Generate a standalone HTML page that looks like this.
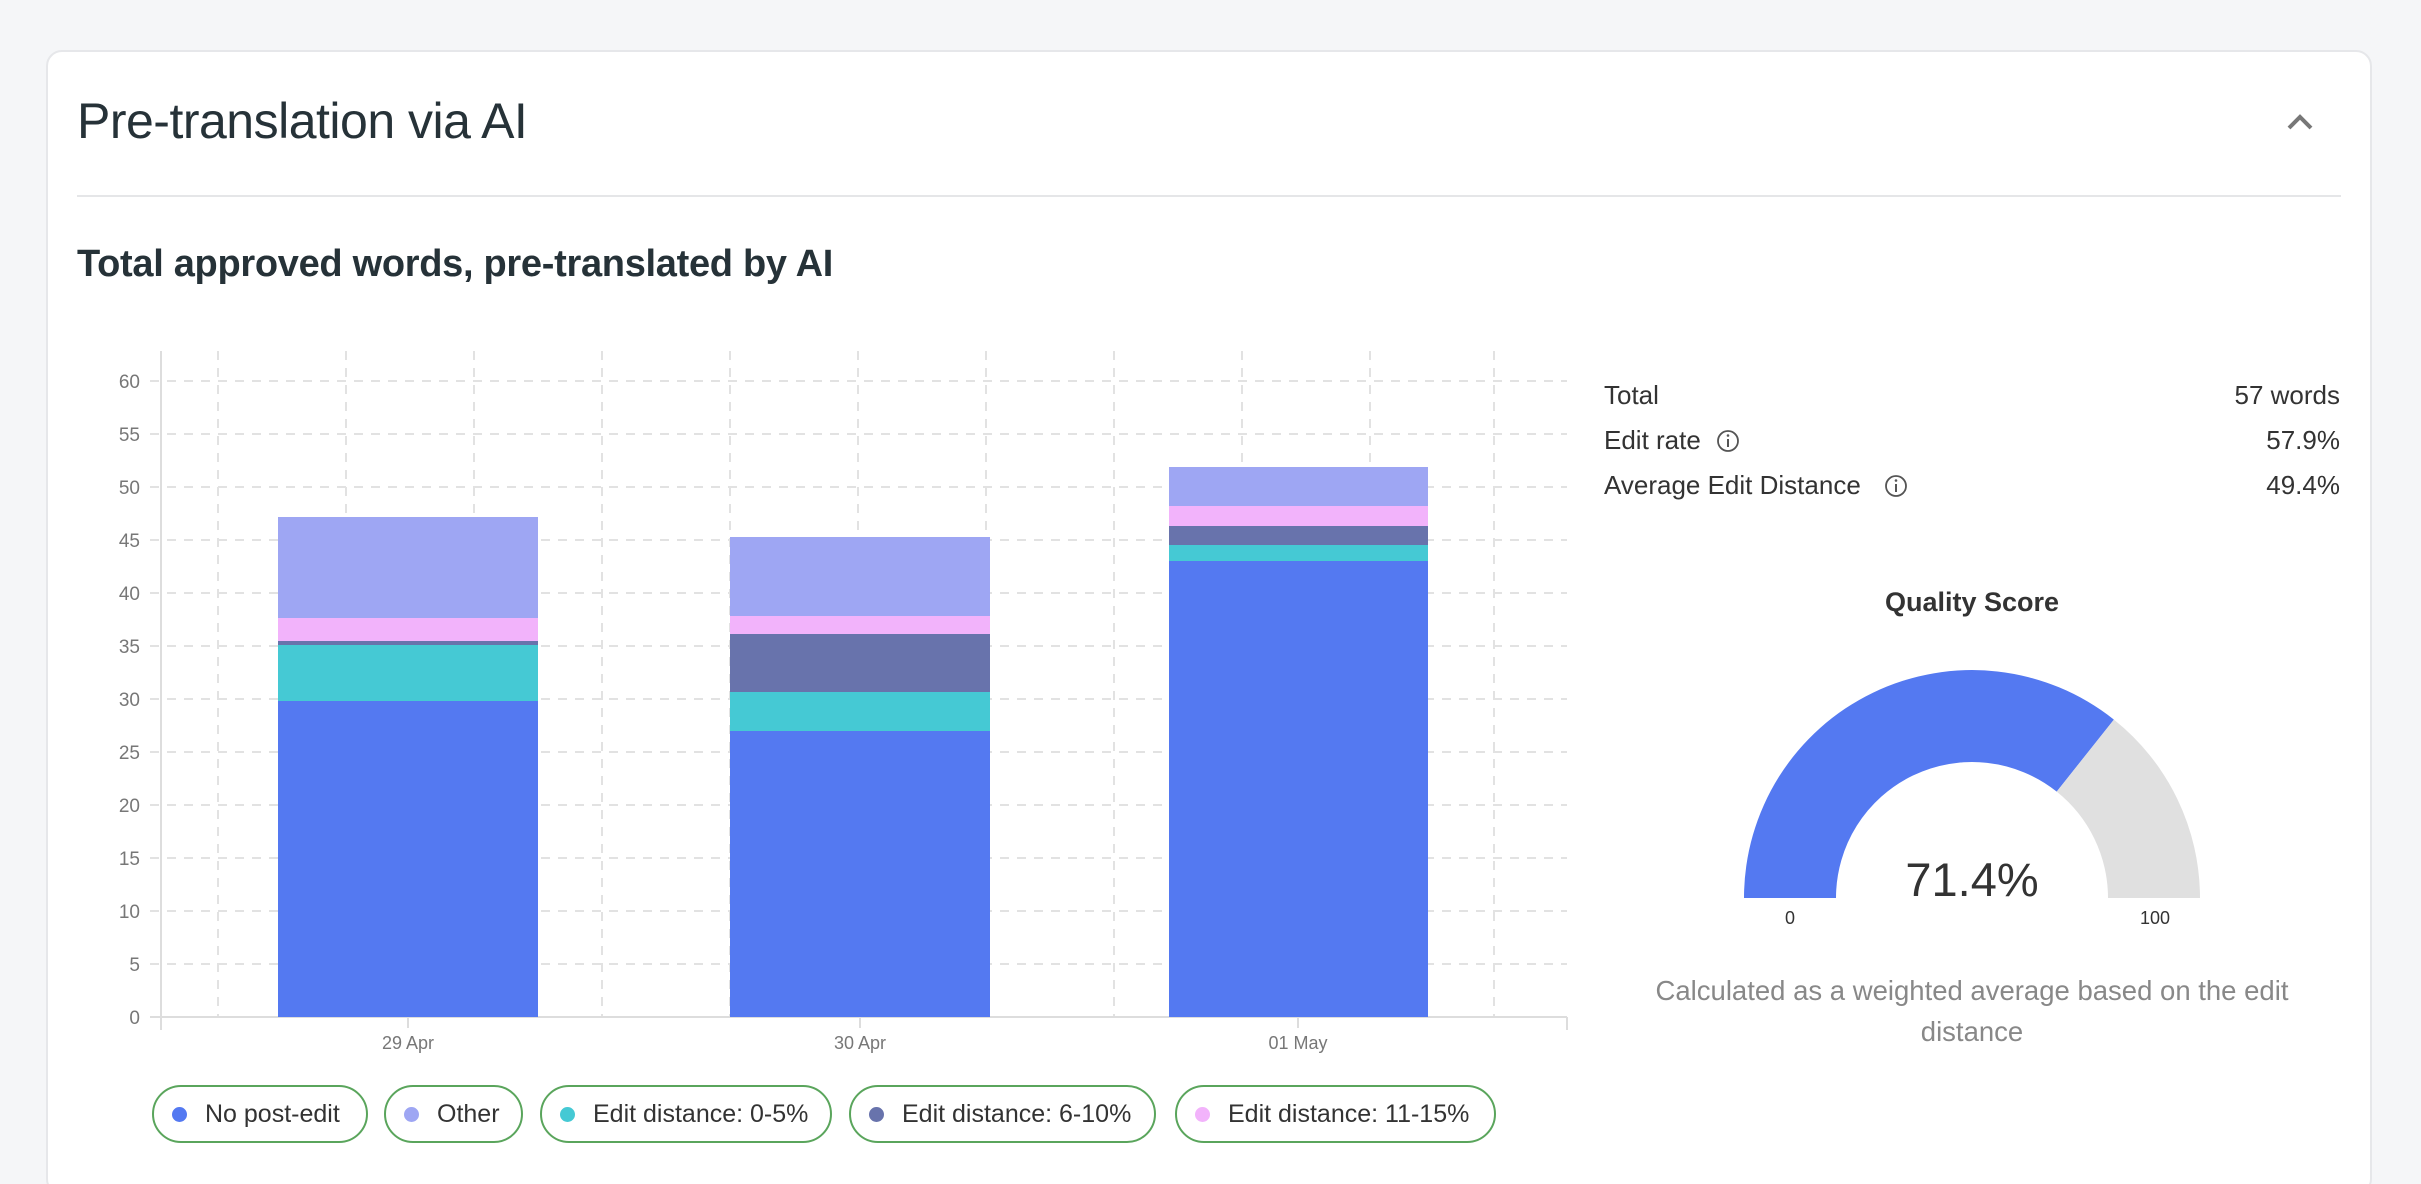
<!DOCTYPE html>
<html style="overflow:hidden;width:2421px;height:1184px"><head><meta charset="utf-8"><style>
body{margin:0;width:2421px;height:1184px;background:#f5f6f8;font-family:"Liberation Sans",sans-serif;overflow:hidden;position:relative}
.card{position:absolute;left:46px;top:50px;width:2326px;height:1145px;background:#fff;border:2px solid #e6e7ea;border-radius:16px;box-sizing:border-box}
.t{position:absolute;white-space:nowrap;color:#263238}
.pill{position:absolute;top:1085px;height:58px;border:2px solid #5aa55c;border-radius:29px;box-sizing:border-box;font-size:25px;color:#333;display:flex;align-items:center;padding-left:18px}
.pill i{display:inline-block;width:15px;height:15px;border-radius:50%;margin-right:18px}
</style></head><body>
<div class="card"></div>
<div class="t" style="left:77px;top:92px;font-size:50px;letter-spacing:-0.5px">Pre-translation via AI</div>
<div style="position:absolute;left:77px;top:195px;width:2264px;height:2px;background:#e5e6e8"></div>
<svg style="position:absolute;left:2285px;top:112px" width="32" height="20"><polyline points="4,16 15,5 26,16" fill="none" stroke="#777" stroke-width="4"/></svg>
<div class="t" style="left:77px;top:243px;font-size:38px;font-weight:bold;letter-spacing:-0.3px">Total approved words, pre-translated by AI</div>

<svg style="position:absolute;left:0;top:0" width="2421" height="1184">
<g stroke="#e2e2e2" stroke-width="2" stroke-dasharray="9,8" fill="none">
<line x1="150" x2="1567" y1="381" y2="381"/><line x1="150" x2="1567" y1="434" y2="434"/><line x1="150" x2="1567" y1="487" y2="487"/><line x1="150" x2="1567" y1="540" y2="540"/><line x1="150" x2="1567" y1="593" y2="593"/><line x1="150" x2="1567" y1="646" y2="646"/><line x1="150" x2="1567" y1="699" y2="699"/><line x1="150" x2="1567" y1="752" y2="752"/><line x1="150" x2="1567" y1="805" y2="805"/><line x1="150" x2="1567" y1="858" y2="858"/><line x1="150" x2="1567" y1="911" y2="911"/><line x1="150" x2="1567" y1="964" y2="964"/>
<line x1="218" x2="218" y1="351" y2="1017"/><line x1="346" x2="346" y1="351" y2="1017"/><line x1="474" x2="474" y1="351" y2="1017"/><line x1="602" x2="602" y1="351" y2="1017"/><line x1="730" x2="730" y1="351" y2="1017"/><line x1="858" x2="858" y1="351" y2="1017"/><line x1="986" x2="986" y1="351" y2="1017"/><line x1="1114" x2="1114" y1="351" y2="1017"/><line x1="1242" x2="1242" y1="351" y2="1017"/><line x1="1370" x2="1370" y1="351" y2="1017"/><line x1="1494" x2="1494" y1="351" y2="1017"/>
</g>
<g stroke="#ddd" stroke-width="2"><line x1="161" x2="161" y1="351" y2="1030"/><line x1="150" x2="1567" y1="1017" y2="1017"/><line x1="1567" x2="1567" y1="1017" y2="1030"/><line x1="408" x2="408" y1="1017" y2="1028"/><line x1="860" x2="860" y1="1017" y2="1028"/><line x1="1298" x2="1298" y1="1017" y2="1028"/></g>
<g font-size="19" fill="#777" text-anchor="end" font-family="Liberation Sans">
<text x="140" y="388">60</text><text x="140" y="441">55</text><text x="140" y="494">50</text><text x="140" y="547">45</text><text x="140" y="600">40</text><text x="140" y="653">35</text><text x="140" y="706">30</text><text x="140" y="759">25</text><text x="140" y="812">20</text><text x="140" y="865">15</text><text x="140" y="918">10</text><text x="140" y="971">5</text><text x="140" y="1024">0</text>
</g>
<g font-size="18" fill="#777" text-anchor="middle" font-family="Liberation Sans"><text x="408" y="1049">29 Apr</text><text x="860" y="1049">30 Apr</text><text x="1298" y="1049">01 May</text></g>
<rect x="278" y="517" width="260" height="101" fill="#9ea6f3"/><rect x="278" y="618" width="260" height="23" fill="#f2b3fb"/><rect x="278" y="641" width="260" height="4" fill="#6873ac"/><rect x="278" y="645" width="260" height="56" fill="#45c9d4"/><rect x="278" y="701" width="260" height="316" fill="#5479f1"/>
<rect x="730" y="537" width="260" height="79" fill="#9ea6f3"/><rect x="730" y="616" width="260" height="18" fill="#f2b3fb"/><rect x="730" y="634" width="260" height="58" fill="#6873ac"/><rect x="730" y="692" width="260" height="39" fill="#45c9d4"/><rect x="730" y="731" width="260" height="286" fill="#5479f1"/>
<rect x="1169" y="467" width="259" height="39" fill="#9ea6f3"/><rect x="1169" y="506" width="259" height="20" fill="#f2b3fb"/><rect x="1169" y="526" width="259" height="19" fill="#6873ac"/><rect x="1169" y="545" width="259" height="16" fill="#45c9d4"/><rect x="1169" y="561" width="259" height="456" fill="#5479f1"/>
<path d="M1744 898 A228 228 0 0 1 2113.9 719.6 L2056.7 791.6 A136 136 0 0 0 1836 898 Z" fill="#5479f1"/>
<path d="M2113.9 719.6 A228 228 0 0 1 2200 898 L2108 898 A136 136 0 0 0 2056.7 791.6 Z" fill="#e0e0e0"/>
<g font-family="Liberation Sans" text-anchor="middle"><text x="1972" y="896" font-size="47" fill="#333">71.4%</text><text x="1790" y="924" font-size="18" fill="#333">0</text><text x="2155" y="924" font-size="18" fill="#333">100</text>
<text x="1972" y="611" font-size="27" font-weight="bold" fill="#333">Quality Score</text>
<text x="1972" y="1000" font-size="27.5" fill="#888">Calculated as a weighted average based on the edit</text><text x="1972" y="1041" font-size="27.5" fill="#888">distance</text></g>
<g font-family="Liberation Sans" font-size="26" fill="#333"><text x="1604" y="404">Total</text><text x="1604" y="449">Edit rate</text><text x="1604" y="494">Average Edit Distance</text>
<g text-anchor="end"><text x="2340" y="404">57 words</text><text x="2340" y="449">57.9%</text><text x="2340" y="494">49.4%</text></g></g>
<g fill="none" stroke="#555" stroke-width="1.8"><circle cx="1728" cy="441" r="10"/><circle cx="1896" cy="486" r="10"/></g>
<g fill="#555"><rect x="1727" y="439" width="2" height="8"/><circle cx="1728" cy="435.5" r="1.3"/><rect x="1895" y="484" width="2" height="8"/><circle cx="1896" cy="480.5" r="1.3"/></g>
</svg>

<div class="pill" style="left:152px;width:216px"><i style="background:#5479f1"></i>No post-edit</div>
<div class="pill" style="left:384px;width:139px"><i style="background:#9ea6f3"></i>Other</div>
<div class="pill" style="left:540px;width:292px"><i style="background:#45c9d4"></i>Edit distance: 0-5%</div>
<div class="pill" style="left:849px;width:307px"><i style="background:#6873ac"></i>Edit distance: 6-10%</div>
<div class="pill" style="left:1175px;width:321px"><i style="background:#f2b3fb"></i>Edit distance: 11-15%</div>
</body></html>
